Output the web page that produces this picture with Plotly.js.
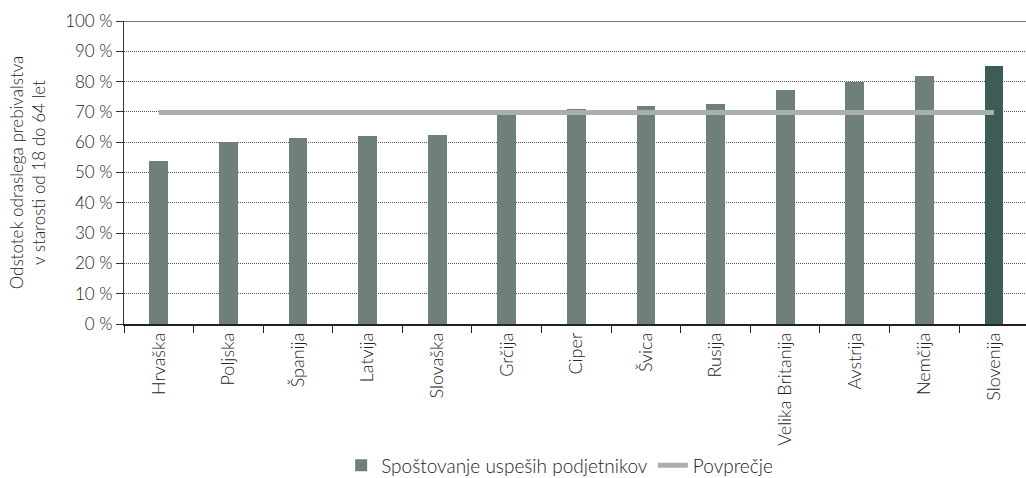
<!DOCTYPE html>
<html>
<head>
<meta charset="utf-8">
<script src="https://cdn.plot.ly/plotly-3.0.1.min.js"></script>
<style>html,body{margin:0;padding:0;background:#fff;}#chart{width:1026px;height:478px;}</style>
</head>
<body>
<div id="chart"></div>
<script>
const categories = ["Hrvaška","Poljska","Španija","Latvija","Slovaška","Grčija","Ciper","Švica","Rusija","Velika Britanija","Avstrija","Nemčija","Slovenija"];
const respect = [53.7, 60.2, 61.3, 61.9, 62.3, 69.5, 70.9, 71.8, 72.5, 77.1, 79.9, 81.7, 85.0];
const average = [69.8, 69.8, 69.8, 69.8, 69.8, 69.8, 69.8, 69.8, 69.8, 69.8, 69.8, 69.8, 69.8];
const yTickVals = [0,10,20,30,40,50,60,70,80,90,100];
const yTickText = ["0 %","10 %","20 %","30 %","40 %","50 %","60 %","70 %","80 %","90 %","100 %"];
const highlight = "Slovenija";

const barColor = "#6f7f7b", hiColor = "#3d5c58";
const fam = "Lato, 'Open Sans', sans-serif";
const font = {family: fam, size: 17, color: "#222", weight: 300};

const traces = [
  {type: "bar", x: categories, y: respect, name: "Spoštovanje uspeših podjetnikov",
   width: 0.27, marker: {color: categories.map(c => c === highlight ? hiColor : barColor)}},
  {type: "scatter", mode: "lines", x: categories, y: average, name: "Povprečje",
   line: {color: "#a8afac", width: 5}}
];
const layout = {
  width: 1026, height: 478,
  margin: {l: 124, r: 0, t: 21, b: 154, autoexpand: false},
  font: font,
  paper_bgcolor: "#fff", plot_bgcolor: "#fff",
  showlegend: true,
  legend: {orientation: "h", x: 0.483, xanchor: "center", y: -0.467, yanchor: "middle",
           font: {family: fam, size: 19, color: "#222", weight: 300}, itemwidth: 30,
           traceorder: "normal"},
  xaxis: {type: "category", range: [-0.5, 12.46], tickangle: -90, ticks: "outside", tickson: "boundaries",
          ticklen: 7, tickcolor: "#222", showline: true, linecolor: "#222", linewidth: 1.5,
          showgrid: false, tickfont: {size: 18}, fixedrange: true, automargin: false},
  yaxis: {range: [0, 100], tickvals: yTickVals, ticktext: yTickText, ticks: "outside", ticklen: 7,
          tickcolor: "#333", showline: true, linecolor: "#333", linewidth: 1, automargin: false,
          showgrid: true, gridcolor: "#555", griddash: "1px,1px", gridwidth: 1, zeroline: false,
          tickfont: {size: 17},
          title: {text: "Odstotek odraslega prebivalstva<br>v starosti od 18 do 64 let", standoff: 15,
                  font: {size: 17}}},
  shapes: [{type: "line", xref: "paper", yref: "y", x0: 0, x1: 1, y0: 100, y1: 100,
            line: {color: "#777", width: 2}}],
  bargap: 0
};
Plotly.newPlot("chart", traces, layout, {displayModeBar: false, staticPlot: true});
</script>
</body>
</html>
